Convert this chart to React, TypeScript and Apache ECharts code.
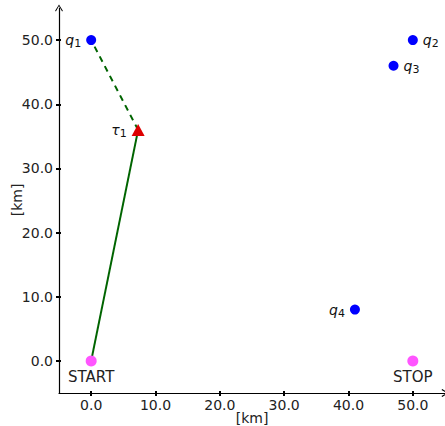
import React, { useEffect, useRef } from "react";
import * as echarts from "echarts";

const queryNames = ["1", "2", "3", "4"];
const queryX = [0, 50, 47, 41];
const queryY = [50, 50, 46, 8];
const queryLabelPos = ["left", "right", "right", "left"];

const tauName = "1";
const tauX = 7.3;
const tauY = 36;

const endpointNames = ["START", "STOP"];
const endpointX = [0, 50];
const endpointY = [0, 0];

const solidPath = [[0, 0], [tauX, tauY]];
const dashedPath = [[tauX, tauY], [0, 50]];

const tickValues = [0, 10, 20, 30, 40, 50];
const axisName = "[km]";

export default function App() {
  const ref = useRef<HTMLDivElement>(null);
  useEffect(() => {
    const chart = echarts.init(ref.current!, null, { renderer: "svg" });
    const font = "DejaVu Sans";
    const rich = {
      i: { fontStyle: "italic", fontSize: 14, color: "#111", fontFamily: font },
      s: { fontSize: 11, color: "#111", fontFamily: font, padding: [7, 0, 0, 0] },
    };
    const axisCommon = {
      type: "value",
      min: -5,
      max: 55,
      splitLine: { show: false },
      axisLine: {
        show: true,
        onZero: false,
        symbol: ["none", "path://M5,0L10,8L9,9L5,2L1,9L0,8Z"],
        symbolSize: [10, 7],
        lineStyle: { color: "#000", width: 1.2 },
      },
      axisTick: {
        show: true,
        length: 3,
        customValues: tickValues,
        lineStyle: { color: "#000", width: 2 },
      },
      axisLabel: {
        fontFamily: font,
        fontSize: 14,
        color: "#222",
        customValues: tickValues,
        formatter: (v: number) => v.toFixed(1),
      },
    };
    const innerTicks = {
      type: "value",
      min: -5,
      max: 55,
      splitLine: { show: false },
      axisLine: { show: false, onZero: false },
      axisLabel: { show: false },
      axisTick: {
        show: true,
        inside: true,
        length: 2,
        customValues: tickValues,
        lineStyle: { color: "#000", width: 2 },
      },
    };
    const nameStyle = { text: axisName, fontFamily: font, fontSize: 14, fill: "#222", align: "center" };
    chart.setOption({
      animation: false,
      grid: { left: 59, top: 8, width: 386, height: 385, outerBoundsMode: "none", containLabel: false },
      xAxis: [
        { ...axisCommon, position: "bottom", axisLabel: { ...axisCommon.axisLabel, margin: 5 } },
        { ...innerTicks, position: "bottom" },
      ],
      yAxis: [
        { ...axisCommon, position: "left", axisLabel: { ...axisCommon.axisLabel, margin: 6 } },
        { ...innerTicks, position: "left" },
      ],
      graphic: [
        { type: "text", x: 252, y: 425, style: { ...nameStyle, verticalAlign: "bottom" } },
        { type: "text", x: 17, y: 200, rotation: Math.PI / 2, style: { ...nameStyle, verticalAlign: "middle" } },
      ],
      series: [
        {
          type: "line",
          data: solidPath,
          symbol: "none",
          lineStyle: { color: "#006400", width: 2 },
          z: 1,
        },
        {
          type: "line",
          data: dashedPath,
          symbol: "none",
          lineStyle: { color: "#006400", width: 2, type: [6, 5] },
          z: 1,
        },
        {
          type: "scatter",
          symbolSize: 10,
          itemStyle: { color: "#0000ff", opacity: 1 },
          data: queryX.map((x, i) => ({
            value: [x, queryY[i]],
            label: {
              show: true,
              position: queryLabelPos[i],
              distance: 5,
              formatter: `{i|q}{s|${queryNames[i]}}`,
              rich,
            },
          })),
          z: 3,
        },
        {
          type: "scatter",
          symbol: "triangle",
          symbolSize: [13, 12],
          itemStyle: { color: "#dd0000", opacity: 1 },
          data: [
            {
              value: [tauX, tauY],
              label: {
                show: true,
                position: "left",
                distance: 5,
                formatter: `{i|τ}{s|${tauName}}`,
                rich,
              },
            },
          ],
          z: 3,
        },
        {
          type: "scatter",
          symbolSize: 11,
          itemStyle: { color: "#ff55ff", opacity: 1 },
          data: endpointX.map((x, i) => ({
            value: [x, endpointY[i]],
            label: {
              show: true,
              position: "bottom",
              distance: 3,
              formatter: endpointNames[i],
              fontFamily: font,
              fontSize: 15,
              color: "#222",
            },
          })),
          z: 3,
        },
      ],
    });
    return () => chart.dispose();
  }, []);
  return (
    <div
      ref={ref}
      style={{ position: "absolute", left: 0, top: 0, width: 445, height: 426 }}
    />
  );
}
